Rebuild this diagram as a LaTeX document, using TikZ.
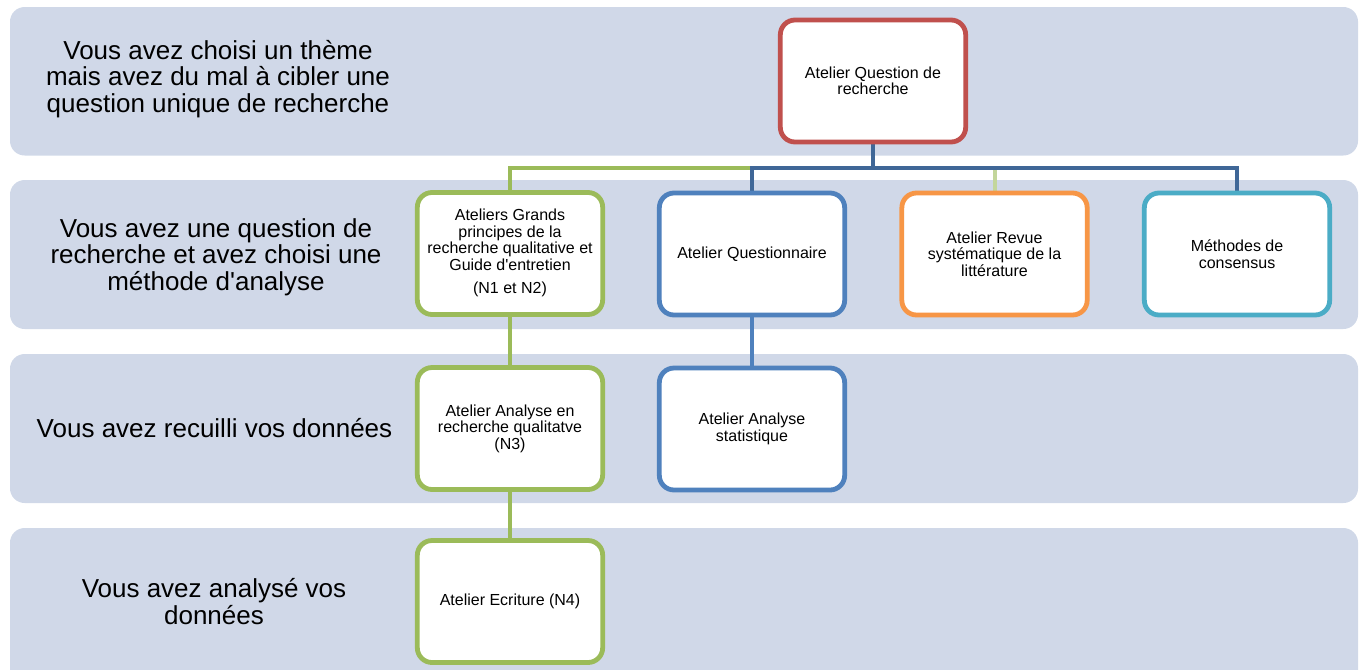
\documentclass[tikz,border=0pt]{standalone}
\usepackage{fontspec}
\setmainfont{Liberation Sans}
\definecolor{bandc}{HTML}{D0D8E8}
\definecolor{redc}{HTML}{C0504D}
\definecolor{greenc}{HTML}{9BBB59}
\definecolor{bluec}{HTML}{4F81BD}
\definecolor{orangec}{HTML}{F79646}
\definecolor{cyanc}{HTML}{4BACC6}
\definecolor{darkbluec}{HTML}{3F6797}
\definecolor{lightgreenc}{HTML}{C3D69B}
\pgfdeclarelayer{bandlayer}
\pgfdeclarelayer{connlayer}
\pgfsetlayers{bandlayer,connlayer,main}
\begin{document}
\begin{tikzpicture}[x=0.75pt,y=-0.75pt,
  band/.style={fill=bandc,rounded corners=11pt},
  bandtext/.style={align=center,font=\fontsize{19.5}{19.8}\selectfont,inner sep=0pt},
  box/.style={draw=#1,fill=white,line width=3.6pt,rounded corners=11pt,
    minimum width=139pt,minimum height=91.5pt,align=center,inner sep=2pt,
    font=\fontsize{12}{12.3}\selectfont},
  conn/.style={draw=#1,line width=3pt}]
\useasboundingbox (0,0) rectangle (1363,669);
\clip (0,0) rectangle (1363,669);
% bands
\begin{pgfonlayer}{bandlayer}
\fill[band] (10,7) rectangle (1358,155.5);
\fill[band] (10,180) rectangle (1358,329);
\fill[band] (10,354) rectangle (1358,503);
\fill[band] (10,528) rectangle (1358,690);
\end{pgfonlayer}
% band labels
\node[bandtext] (t1) at (218,79) {Vous avez choisi un thème\\mais avez du mal à cibler une\\question unique de recherche};
\node[bandtext] (t2) at (216,257) {Vous avez une question de\\recherche et avez choisi une\\méthode d\textquotesingle analyse};
\node[bandtext] (t3) at (214.5,428) {Vous avez recuilli vos données};
\node[bandtext] (t4) at (214,601.5) {Vous avez analysé vos\\données};
% boxes
\node[box=redc] (red) at (873,81) {Atelier Question de\\recherche};
\node[box=greenc] (g1) at (510,253.5) {\raisebox{-3pt}{\begin{tabular}{@{}c@{}}Ateliers Grands\\principes de la\\recherche qualitative et\\Guide d\textquotesingle entretien\\[5pt](N1 et N2)\end{tabular}}};
\node[box=bluec] (q) at (752,254) {Atelier Questionnaire};
\node[box=orangec] (rev) at (994.5,254) {Atelier Revue\\systématique de la\\littérature};
\node[box=cyanc] (cons) at (1237,254) {Méthodes de\\consensus};
\node[box=greenc] (g3) at (510,428.5) {Atelier Analyse en\\recherche qualitatve\\(N3)};
\node[box=bluec] (stat) at (752,429) {Atelier Analyse\\statistique};
\node[box=greenc] (g4) at (510,601.5) {Atelier Ecriture (N4)};
% connectors
\coordinate (b) at (873,168);
\begin{pgfonlayer}{connlayer}
\path[conn=greenc] (g1.north) -- (g1.north |- b) -- (q.north |- b);
\path[conn=lightgreenc] (rev.north |- b) -- (rev.north);
\path[conn=darkbluec] (red.south) -- (b);
\path[conn=darkbluec] (q.north) -- (q.north |- b) -- (cons.north |- b) -- (cons.north);
\path[conn=greenc] (g1.south) -- (g3.north);
\path[conn=greenc] (g3.south) -- (g4.north);
\path[conn=bluec] (q.south) -- (stat.north);
\end{pgfonlayer}
\end{tikzpicture}
\end{document}
